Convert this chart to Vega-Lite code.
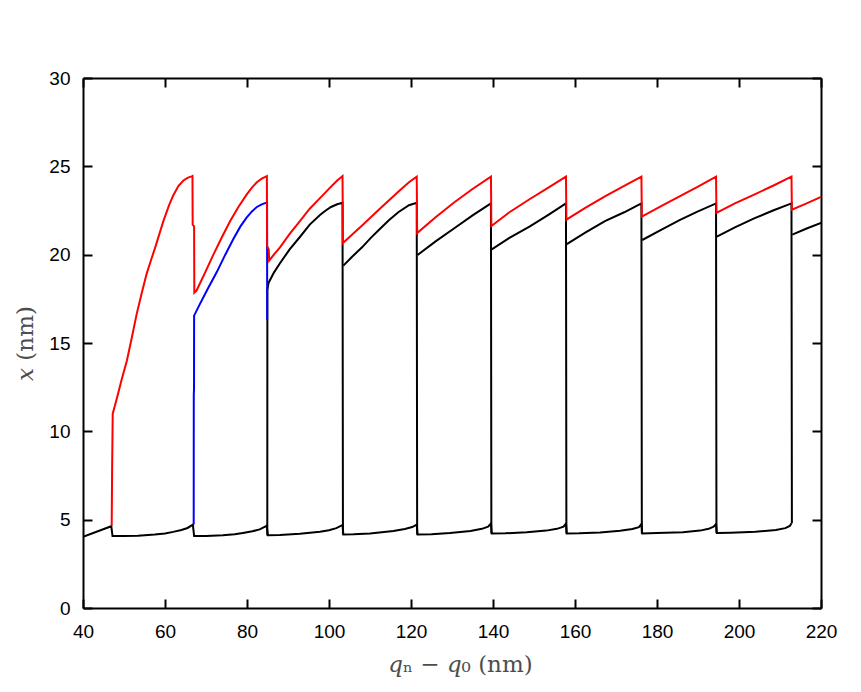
{
  "$schema": "https://vega.github.io/schema/vega-lite/v6.json",
  "width": 738,
  "height": 530,
  "autosize": {"type": "none"},
  "padding": {"left": 83, "top": 78, "right": 40, "bottom": 84},
  "background": "white",
  "config": {
    "view": {"stroke": null},
    "axis": {
      "grid": false,
      "domainColor": "black",
      "domainWidth": 2,
      "tickColor": "black",
      "tickWidth": 2,
      "tickSize": -9,
      "labelFont": "Liberation Sans",
      "labelFontSize": 19,
      "labelColor": "black",
      "labelFlush": false,
      "labelOverlap": false,
      "titleFont": "DejaVu Serif",
      "titleFontWeight": "normal",
      "titleFontSize": 23,
      "titleColor": "#4d4d4d"
    }
  },
  "data": {
    "values": [
      {"s": "k", "g": "lo", "x": 40, "y": 4.03},
      {"s": "k", "g": "lo", "x": 46.9, "y": 4.63},
      {"s": "k", "g": "lo", "x": 47.2, "y": 4.07},
      {"s": "k", "g": "lo", "x": 50, "y": 4.07},
      {"s": "k", "g": "lo", "x": 53.4, "y": 4.09},
      {"s": "k", "g": "lo", "x": 57.5, "y": 4.16},
      {"s": "k", "g": "lo", "x": 60, "y": 4.22},
      {"s": "k", "g": "lo", "x": 62, "y": 4.31},
      {"s": "k", "g": "lo", "x": 64, "y": 4.42},
      {"s": "k", "g": "lo", "x": 65.5, "y": 4.53},
      {"s": "k", "g": "lo", "x": 66.8, "y": 4.72},
      {"s": "k", "g": "lo", "x": 67.1, "y": 4.07},
      {"s": "k", "g": "lo", "x": 70, "y": 4.08},
      {"s": "k", "g": "lo", "x": 74.1, "y": 4.12},
      {"s": "k", "g": "lo", "x": 77, "y": 4.18},
      {"s": "k", "g": "lo", "x": 79.0, "y": 4.25},
      {"s": "k", "g": "lo", "x": 81.3, "y": 4.34},
      {"s": "k", "g": "lo", "x": 83.1, "y": 4.45},
      {"s": "k", "g": "lo", "x": 84.8, "y": 4.65},
      {"s": "k", "g": "lo", "x": 85.1, "y": 4.12},
      {"s": "k", "g": "lo", "x": 88, "y": 4.13},
      {"s": "k", "g": "lo", "x": 92.9, "y": 4.2},
      {"s": "k", "g": "lo", "x": 97.8, "y": 4.31},
      {"s": "k", "g": "lo", "x": 100, "y": 4.4},
      {"s": "k", "g": "lo", "x": 101.8, "y": 4.52},
      {"s": "k", "g": "lo", "x": 103.3, "y": 4.7},
      {"s": "k", "g": "lo", "x": 103.5, "y": 4.16},
      {"s": "k", "g": "lo", "x": 106, "y": 4.17},
      {"s": "k", "g": "lo", "x": 110, "y": 4.22},
      {"s": "k", "g": "lo", "x": 115.7, "y": 4.36},
      {"s": "k", "g": "lo", "x": 118.5, "y": 4.47},
      {"s": "k", "g": "lo", "x": 120.3, "y": 4.58},
      {"s": "k", "g": "lo", "x": 121.4, "y": 4.72},
      {"s": "k", "g": "lo", "x": 121.6, "y": 4.16},
      {"s": "k", "g": "lo", "x": 125, "y": 4.18},
      {"s": "k", "g": "lo", "x": 129.5, "y": 4.25},
      {"s": "k", "g": "lo", "x": 134.5, "y": 4.36},
      {"s": "k", "g": "lo", "x": 137.3, "y": 4.48},
      {"s": "k", "g": "lo", "x": 138.8, "y": 4.6},
      {"s": "k", "g": "lo", "x": 139.5, "y": 4.78},
      {"s": "k", "g": "lo", "x": 139.7, "y": 4.22},
      {"s": "k", "g": "lo", "x": 143, "y": 4.23},
      {"s": "k", "g": "lo", "x": 148.2, "y": 4.29},
      {"s": "k", "g": "lo", "x": 153, "y": 4.38},
      {"s": "k", "g": "lo", "x": 155.6, "y": 4.48},
      {"s": "k", "g": "lo", "x": 157.2, "y": 4.6},
      {"s": "k", "g": "lo", "x": 157.8, "y": 4.78},
      {"s": "k", "g": "lo", "x": 158.0, "y": 4.22},
      {"s": "k", "g": "lo", "x": 161, "y": 4.23},
      {"s": "k", "g": "lo", "x": 166.1, "y": 4.28},
      {"s": "k", "g": "lo", "x": 171, "y": 4.37},
      {"s": "k", "g": "lo", "x": 174, "y": 4.47},
      {"s": "k", "g": "lo", "x": 175.6, "y": 4.58},
      {"s": "k", "g": "lo", "x": 176.2, "y": 4.75},
      {"s": "k", "g": "lo", "x": 176.4, "y": 4.22},
      {"s": "k", "g": "lo", "x": 180, "y": 4.24},
      {"s": "k", "g": "lo", "x": 186.3, "y": 4.29},
      {"s": "k", "g": "lo", "x": 190.5, "y": 4.38},
      {"s": "k", "g": "lo", "x": 192.6, "y": 4.48},
      {"s": "k", "g": "lo", "x": 193.8, "y": 4.6},
      {"s": "k", "g": "lo", "x": 194.4, "y": 4.75},
      {"s": "k", "g": "lo", "x": 194.6, "y": 4.24},
      {"s": "k", "g": "lo", "x": 198, "y": 4.26},
      {"s": "k", "g": "lo", "x": 204, "y": 4.31},
      {"s": "k", "g": "lo", "x": 209, "y": 4.41},
      {"s": "k", "g": "lo", "x": 211.3, "y": 4.52},
      {"s": "k", "g": "lo", "x": 212.4, "y": 4.64},
      {"s": "k", "g": "lo", "x": 212.8, "y": 4.8},

      {"s": "k", "g": "u1", "x": 84.95, "y": 4.1},
      {"s": "k", "g": "u1", "x": 84.97, "y": 18.0},
      {"s": "k", "g": "u1", "x": 85.25, "y": 18.4},
      {"s": "k", "g": "u1", "x": 86.6, "y": 19.0},
      {"s": "k", "g": "u1", "x": 88.0, "y": 19.5},
      {"s": "k", "g": "u1", "x": 90.4, "y": 20.3},
      {"s": "k", "g": "u1", "x": 92.9, "y": 21.0},
      {"s": "k", "g": "u1", "x": 95.3, "y": 21.7},
      {"s": "k", "g": "u1", "x": 97.8, "y": 22.25},
      {"s": "k", "g": "u1", "x": 99.2, "y": 22.5},
      {"s": "k", "g": "u1", "x": 100.5, "y": 22.7},
      {"s": "k", "g": "u1", "x": 102, "y": 22.85},
      {"s": "k", "g": "u1", "x": 103.3, "y": 22.93},
      {"s": "k", "g": "u1", "x": 103.4, "y": 4.16},

      {"s": "k", "g": "u2", "x": 103.5, "y": 19.38},
      {"s": "k", "g": "u2", "x": 105.7, "y": 19.9},
      {"s": "k", "g": "u2", "x": 108.0, "y": 20.4},
      {"s": "k", "g": "u2", "x": 110.2, "y": 20.95},
      {"s": "k", "g": "u2", "x": 112.4, "y": 21.45},
      {"s": "k", "g": "u2", "x": 114.6, "y": 21.95},
      {"s": "k", "g": "u2", "x": 116.9, "y": 22.4},
      {"s": "k", "g": "u2", "x": 119.5, "y": 22.8},
      {"s": "k", "g": "u2", "x": 121.4, "y": 22.93},
      {"s": "k", "g": "u2", "x": 121.5, "y": 4.16},

      {"s": "k", "g": "u3", "x": 121.6, "y": 19.98},
      {"s": "k", "g": "u3", "x": 126, "y": 20.75},
      {"s": "k", "g": "u3", "x": 130.3, "y": 21.45},
      {"s": "k", "g": "u3", "x": 135.2, "y": 22.25},
      {"s": "k", "g": "u3", "x": 138, "y": 22.68},
      {"s": "k", "g": "u3", "x": 139.5, "y": 22.9},
      {"s": "k", "g": "u3", "x": 139.6, "y": 4.22},

      {"s": "k", "g": "u4", "x": 139.7, "y": 20.3},
      {"s": "k", "g": "u4", "x": 144, "y": 20.95},
      {"s": "k", "g": "u4", "x": 149.0, "y": 21.6},
      {"s": "k", "g": "u4", "x": 153.5, "y": 22.25},
      {"s": "k", "g": "u4", "x": 157.8, "y": 22.9},
      {"s": "k", "g": "u4", "x": 157.9, "y": 4.22},

      {"s": "k", "g": "u5", "x": 158.0, "y": 20.6},
      {"s": "k", "g": "u5", "x": 162.5, "y": 21.25},
      {"s": "k", "g": "u5", "x": 167.3, "y": 21.9},
      {"s": "k", "g": "u5", "x": 172, "y": 22.4},
      {"s": "k", "g": "u5", "x": 176.2, "y": 22.9},
      {"s": "k", "g": "u5", "x": 176.3, "y": 4.22},

      {"s": "k", "g": "u6", "x": 176.4, "y": 20.83},
      {"s": "k", "g": "u6", "x": 181, "y": 21.4},
      {"s": "k", "g": "u6", "x": 185.5, "y": 21.95},
      {"s": "k", "g": "u6", "x": 190, "y": 22.45},
      {"s": "k", "g": "u6", "x": 194.4, "y": 22.9},
      {"s": "k", "g": "u6", "x": 194.5, "y": 4.24},

      {"s": "k", "g": "u7", "x": 194.6, "y": 21.02},
      {"s": "k", "g": "u7", "x": 199, "y": 21.55},
      {"s": "k", "g": "u7", "x": 203.7, "y": 22.05},
      {"s": "k", "g": "u7", "x": 208.3, "y": 22.5},
      {"s": "k", "g": "u7", "x": 212.8, "y": 22.9},
      {"s": "k", "g": "u7", "x": 212.9, "y": 4.8},

      {"s": "k", "g": "u8", "x": 213.0, "y": 21.13},
      {"s": "k", "g": "u8", "x": 216.5, "y": 21.48},
      {"s": "k", "g": "u8", "x": 220, "y": 21.8},

      {"s": "b", "g": "b1", "x": 67.0, "y": 4.72},
      {"s": "b", "g": "b1", "x": 67.02, "y": 12.1},
      {"s": "b", "g": "b1", "x": 67.08, "y": 12.4},
      {"s": "b", "g": "b1", "x": 67.1, "y": 16.55},
      {"s": "b", "g": "b1", "x": 68.5, "y": 17.2},
      {"s": "b", "g": "b1", "x": 70.5, "y": 18.1},
      {"s": "b", "g": "b1", "x": 72.6, "y": 19.0},
      {"s": "b", "g": "b1", "x": 74.7, "y": 20.0},
      {"s": "b", "g": "b1", "x": 76.7, "y": 20.9},
      {"s": "b", "g": "b1", "x": 78.4, "y": 21.6},
      {"s": "b", "g": "b1", "x": 79.9, "y": 22.1},
      {"s": "b", "g": "b1", "x": 81.2, "y": 22.45},
      {"s": "b", "g": "b1", "x": 82.4, "y": 22.7},
      {"s": "b", "g": "b1", "x": 83.6, "y": 22.85},
      {"s": "b", "g": "b1", "x": 84.6, "y": 22.93},
      {"s": "b", "g": "b1", "x": 84.9, "y": 22.95},
      {"s": "b", "g": "b1", "x": 84.92, "y": 16.3},

      {"s": "r", "g": "r1", "x": 47.0, "y": 4.65},
      {"s": "r", "g": "r1", "x": 47.1, "y": 7.8},
      {"s": "r", "g": "r1", "x": 47.25, "y": 11.0},
      {"s": "r", "g": "r1", "x": 48.3, "y": 11.9},
      {"s": "r", "g": "r1", "x": 49.4, "y": 12.9},
      {"s": "r", "g": "r1", "x": 50.7, "y": 14.0},
      {"s": "r", "g": "r1", "x": 51.9, "y": 15.3},
      {"s": "r", "g": "r1", "x": 53.1, "y": 16.65},
      {"s": "r", "g": "r1", "x": 54.3, "y": 17.8},
      {"s": "r", "g": "r1", "x": 55.5, "y": 18.9},
      {"s": "r", "g": "r1", "x": 56.6, "y": 19.7},
      {"s": "r", "g": "r1", "x": 57.6, "y": 20.4},
      {"s": "r", "g": "r1", "x": 58.6, "y": 21.15},
      {"s": "r", "g": "r1", "x": 59.6, "y": 21.9},
      {"s": "r", "g": "r1", "x": 61.0, "y": 22.8},
      {"s": "r", "g": "r1", "x": 62.0, "y": 23.35},
      {"s": "r", "g": "r1", "x": 63.3, "y": 23.9},
      {"s": "r", "g": "r1", "x": 64.5, "y": 24.2},
      {"s": "r", "g": "r1", "x": 65.6, "y": 24.36},
      {"s": "r", "g": "r1", "x": 66.5, "y": 24.43},
      {"s": "r", "g": "r1", "x": 66.7, "y": 24.45},
      {"s": "r", "g": "r1", "x": 66.75, "y": 21.7},
      {"s": "r", "g": "r1", "x": 67.1, "y": 21.6},
      {"s": "r", "g": "r1", "x": 67.15, "y": 17.85},
      {"s": "r", "g": "r1", "x": 67.7, "y": 17.97},
      {"s": "r", "g": "r1", "x": 69.8, "y": 19.0},
      {"s": "r", "g": "r1", "x": 71.8, "y": 20.0},
      {"s": "r", "g": "r1", "x": 73.9, "y": 21.0},
      {"s": "r", "g": "r1", "x": 75.9, "y": 21.9},
      {"s": "r", "g": "r1", "x": 77.9, "y": 22.7},
      {"s": "r", "g": "r1", "x": 79.9, "y": 23.4},
      {"s": "r", "g": "r1", "x": 81.2, "y": 23.8},
      {"s": "r", "g": "r1", "x": 82.4, "y": 24.1},
      {"s": "r", "g": "r1", "x": 83.6, "y": 24.3},
      {"s": "r", "g": "r1", "x": 84.6, "y": 24.42},
      {"s": "r", "g": "r1", "x": 84.85, "y": 24.45},
      {"s": "r", "g": "r1", "x": 84.9, "y": 20.5},
      {"s": "r", "g": "r1", "x": 85.3, "y": 20.3},
      {"s": "r", "g": "r1", "x": 85.4, "y": 19.66},
      {"s": "r", "g": "r1", "x": 86.7, "y": 20.05},
      {"s": "r", "g": "r1", "x": 88.0, "y": 20.4},
      {"s": "r", "g": "r1", "x": 90.5, "y": 21.2},
      {"s": "r", "g": "r1", "x": 92.9, "y": 21.9},
      {"s": "r", "g": "r1", "x": 95.3, "y": 22.6},
      {"s": "r", "g": "r1", "x": 97.8, "y": 23.2},
      {"s": "r", "g": "r1", "x": 100.5, "y": 23.85},
      {"s": "r", "g": "r1", "x": 102.0, "y": 24.2},
      {"s": "r", "g": "r1", "x": 103.3, "y": 24.45},
      {"s": "r", "g": "r1", "x": 103.4, "y": 20.66},
      {"s": "r", "g": "r1", "x": 108.0, "y": 21.64},
      {"s": "r", "g": "r1", "x": 112.4, "y": 22.6},
      {"s": "r", "g": "r1", "x": 116.9, "y": 23.56},
      {"s": "r", "g": "r1", "x": 119.5, "y": 24.1},
      {"s": "r", "g": "r1", "x": 121.4, "y": 24.42},
      {"s": "r", "g": "r1", "x": 121.5, "y": 21.22},
      {"s": "r", "g": "r1", "x": 126.0, "y": 22.12},
      {"s": "r", "g": "r1", "x": 130.5, "y": 22.95},
      {"s": "r", "g": "r1", "x": 135.0, "y": 23.72},
      {"s": "r", "g": "r1", "x": 139.5, "y": 24.42},
      {"s": "r", "g": "r1", "x": 139.6, "y": 21.62},
      {"s": "r", "g": "r1", "x": 144, "y": 22.4},
      {"s": "r", "g": "r1", "x": 149.0, "y": 23.15},
      {"s": "r", "g": "r1", "x": 153.5, "y": 23.8},
      {"s": "r", "g": "r1", "x": 157.8, "y": 24.42},
      {"s": "r", "g": "r1", "x": 157.9, "y": 21.98},
      {"s": "r", "g": "r1", "x": 162.5, "y": 22.65},
      {"s": "r", "g": "r1", "x": 167.3, "y": 23.3},
      {"s": "r", "g": "r1", "x": 172, "y": 23.9},
      {"s": "r", "g": "r1", "x": 176.2, "y": 24.42},
      {"s": "r", "g": "r1", "x": 176.3, "y": 22.16},
      {"s": "r", "g": "r1", "x": 181, "y": 22.75},
      {"s": "r", "g": "r1", "x": 185.5, "y": 23.3},
      {"s": "r", "g": "r1", "x": 190, "y": 23.85},
      {"s": "r", "g": "r1", "x": 194.4, "y": 24.42},
      {"s": "r", "g": "r1", "x": 194.5, "y": 22.36},
      {"s": "r", "g": "r1", "x": 199, "y": 22.9},
      {"s": "r", "g": "r1", "x": 203.7, "y": 23.4},
      {"s": "r", "g": "r1", "x": 208.3, "y": 23.9},
      {"s": "r", "g": "r1", "x": 212.8, "y": 24.42},
      {"s": "r", "g": "r1", "x": 212.9, "y": 22.54},
      {"s": "r", "g": "r1", "x": 216.5, "y": 22.9},
      {"s": "r", "g": "r1", "x": 220, "y": 23.27}
    ]
  },
  "resolve": {"axis": {"x": "independent", "y": "independent"}},
  "layer": [
    {
      "transform": [{"filter": "datum.s === 'k'"}],
      "mark": {"type": "line", "color": "black", "strokeWidth": 2, "clip": true},
      "encoding": {
        "x": {
          "field": "x", "type": "quantitative",
          "scale": {"domain": [40, 220], "nice": false, "zero": false},
          "axis": {
            "orient": "bottom",
            "values": [40, 60, 80, 100, 120, 140, 160, 180, 200, 220],
            "labelPadding": 23,
            "title": "𝑞ₙ − 𝑞₀ (nm)",
            "titleX": 377,
            "titleY": 63,
            "titleAlign": "center",
            "titleBaseline": "alphabetic"
          }
        },
        "y": {
          "field": "y", "type": "quantitative",
          "scale": {"domain": [0, 30], "nice": false, "zero": false},
          "axis": {
            "orient": "left",
            "values": [0, 5, 10, 15, 20, 25, 30],
            "labelPadding": 22,
            "title": "𝑥 (nm)",
            "titleX": -51,
            "titleY": 265,
            "titleAngle": -90,
            "titleAlign": "center",
            "titleBaseline": "alphabetic"
          }
        },
        "detail": {"field": "g"}
      }
    },
    {
      "transform": [{"filter": "datum.s === 'b'"}],
      "mark": {"type": "line", "color": "#0000ff", "strokeWidth": 2, "clip": true},
      "encoding": {
        "x": {"field": "x", "type": "quantitative", "axis": null},
        "y": {"field": "y", "type": "quantitative", "axis": null},
        "detail": {"field": "g"}
      }
    },
    {
      "transform": [{"filter": "datum.s === 'r'"}],
      "mark": {"type": "line", "color": "#ff0000", "strokeWidth": 2, "clip": true},
      "encoding": {
        "x": {
          "field": "x", "type": "quantitative",
          "axis": {
            "orient": "top",
            "values": [40, 60, 80, 100, 120, 140, 160, 180, 200, 220],
            "labels": false,
            "title": null
          }
        },
        "y": {
          "field": "y", "type": "quantitative",
          "axis": {
            "orient": "right",
            "values": [0, 5, 10, 15, 20, 25, 30],
            "labels": false,
            "title": null
          }
        },
        "detail": {"field": "g"}
      }
    }
  ]
}
